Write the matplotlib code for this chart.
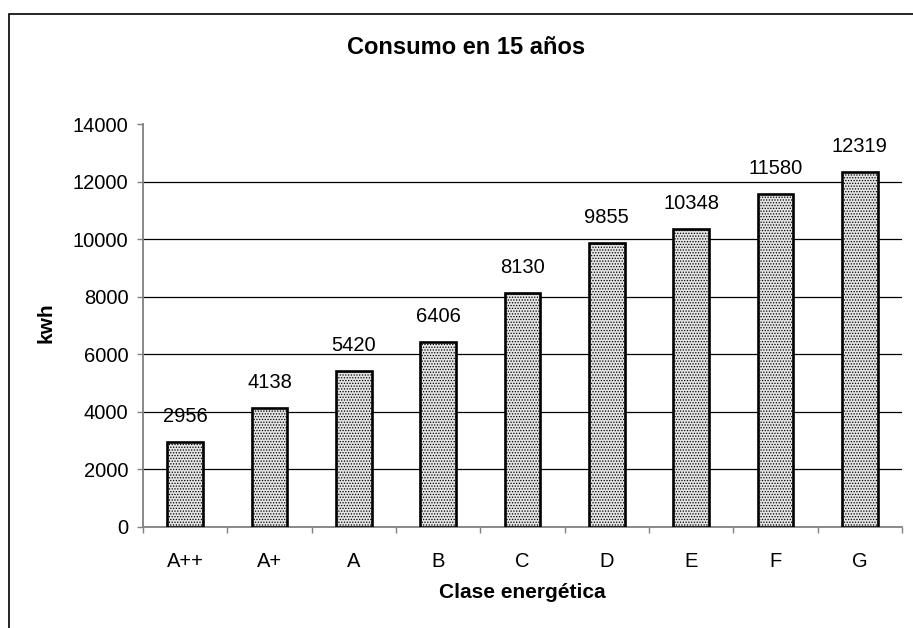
import matplotlib
matplotlib.use("Agg")
import matplotlib.pyplot as plt
from matplotlib.patches import Rectangle

# data
clases = ["A++", "A+", "A", "B", "C", "D", "E", "F", "G"]
consumo = [2956, 4138, 5420, 6406, 8130, 9855, 10348, 11580, 12319]
y_ticks = [0, 2000, 4000, 6000, 8000, 10000, 12000, 14000]

plt.rcParams["font.family"] = ["Liberation Sans", "DejaVu Sans"]
plt.rcParams["hatch.color"] = "#7a7a7a"
plt.rcParams["hatch.linewidth"] = 0.6

fig = plt.figure(figsize=(9.13, 6.28), dpi=100)
ax = fig.add_axes([143 / 913, 1 - 526.7 / 628, (902 - 143) / 913, (526.7 - 124) / 628])

# outer chart frame (right and bottom edges fall outside the image)
fig.patches.append(Rectangle((9 / 913, -0.1), 1.2, 1 - 14 / 628 + 0.1,
                             transform=fig.transFigure, fill=False,
                             edgecolor="black", linewidth=1.2))

x = range(len(clases))
bars = ax.bar(x, consumo, width=0.42, color="#e4e4e4", edgecolor="black",
              linewidth=1.9, hatch="......", zorder=3)

for xi, v in zip(x, consumo):
    ax.text(xi, v + 560, str(v), ha="center", va="bottom", fontsize=14.5)

ax.set_xlim(-0.5, len(clases) - 0.5)
ax.set_ylim(0, 14000)
ax.set_yticks(y_ticks)
ax.set_xticks(list(x))
ax.set_xticklabels(clases)
ax.set_xticks([i + 0.5 for i in range(-1, len(clases))], minor=True)

for gy in y_ticks[1:-1]:
    ax.axhline(gy, color="black", linewidth=0.9, zorder=1)

for s in ["top", "right"]:
    ax.spines[s].set_visible(False)
for s in ["left", "bottom"]:
    ax.spines[s].set_color("#808080")
    ax.spines[s].set_linewidth(1.3)

ax.tick_params(axis="y", direction="out", length=4.5, width=1, color="#808080",
               labelsize=14.5, pad=6)
ax.tick_params(axis="x", which="major", length=0, labelsize=14.5, pad=18)
ax.tick_params(axis="x", which="minor", direction="out", length=4.5, width=1,
               color="#808080")

fig.text(466 / 913, 1 - 47 / 628, "Consumo en 15 años", ha="center",
         va="center", fontsize=17, fontweight="bold")
fig.text(522 / 913, 1 - 593 / 628, "Clase energética", ha="center",
         va="center", fontsize=15, fontweight="bold")
fig.text(46 / 913, 1 - 323 / 628, "kwh", ha="center", va="center",
         rotation=90, fontsize=15, fontweight="bold")

fig.savefig("out.png", dpi=100)
